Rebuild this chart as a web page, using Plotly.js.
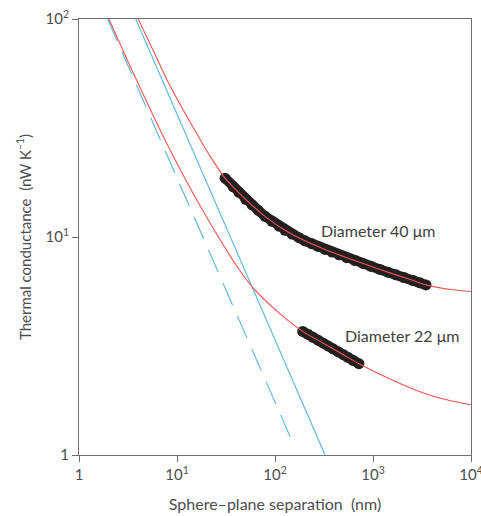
<!DOCTYPE html>
<html>
<head>
<meta charset="utf-8">
<script src="https://cdn.plot.ly/plotly-3.0.1.min.js"></script>
<style>html,body{margin:0;padding:0;background:#fff;}#chart{width:481px;height:516px;}</style>
</head>
<body>
<div id="chart"></div>
<script>
// Measured data, diameter 40 µm (separation nm, conductance nW/K)
const d40X = [30.9, 37.5, 42.9, 50.2, 58.3, 67.1, 79.1, 93.2, 109.8, 126.5, 149.1, 175.8, 202, 238.6, 274.7, 324, 381.6, 449.8, 539, 655, 791, 954, 1178, 1422, 1717, 2072, 2577, 3017, 3475];
const d40Y = [18.62, 16.98, 16.01, 14.88, 14.04, 13.28, 12.44, 11.81, 11.21, 10.73, 10.31, 9.93, 9.60, 9.30, 9.05, 8.77, 8.53, 8.29, 8.04, 7.80, 7.56, 7.34, 7.10, 6.90, 6.71, 6.52, 6.31, 6.16, 6.03];
// Measured data, diameter 22 µm
const d22X = [191.7, 217.1, 244.2, 274.7, 311, 347.4, 390.7, 439.5, 498, 555.9, 625.2, 719];
const d22Y = [3.69, 3.573, 3.467, 3.363, 3.257, 3.166, 3.071, 2.979, 2.884, 2.803, 2.720, 2.624];
// Fitted curves (red)
const fit40X = [4.02, 5.73, 8.28, 15.5, 22, 30.9, 50.2, 79.1, 126.5, 202, 324, 539, 1178, 2577, 3475, 4700, 6500, 10000];
const fit40Y = [100, 71.5, 50.5, 30.4, 23.3, 18.62, 14.88, 12.44, 10.73, 9.60, 8.77, 8.04, 7.10, 6.31, 6.03, 5.86, 5.73, 5.62];
const fit22X = [2.02, 3.58, 7.85, 17.2, 43.9, 60.1, 112, 191.7, 311, 498, 719, 1490, 3260, 5650, 10000];
const fit22Y = [100, 56.5, 26.9, 13.9, 7.0, 5.83, 4.45, 3.69, 3.257, 2.884, 2.624, 2.23, 1.924, 1.793, 1.70];
// Proximity approximation lines (blue)
const pfa40X = [3.79, 324];
const pfa40Y = [100, 1];
const pfa22X = [1.96, 153.8];
const pfa22Y = [100, 1.123];
// Tick labels
const xTickVals = [1, 10, 100, 1000, 10000];
const xTickText = ['1', '10<sup>1</sup>', '10<sup>2</sup>', '10<sup>3</sup>', '10<sup>4</sup>'];
const yTickVals = [1, 10, 100];
const yTickText = ['1', '10<sup>1</sup>', '10<sup>2</sup>'];

const FONT = 'Lato, "Open Sans", sans-serif';
const black = '#231f20';
const red = '#f0554f';
const blue = '#55b4e6';
const grey = '#4d4d4f';

const traces = [
  {x: d40X, y: d40Y, mode: 'lines+markers', line: {color: black, width: 10}, marker: {color: black, size: 11}, hoverinfo: 'skip'},
  {x: d22X, y: d22Y, mode: 'lines+markers', line: {color: black, width: 10}, marker: {color: black, size: 11}, hoverinfo: 'skip'},
  {x: pfa40X, y: pfa40Y, mode: 'lines', line: {color: blue, width: 1.1}},
  {x: pfa22X, y: pfa22Y, mode: 'lines', line: {color: blue, width: 1.1, dash: '24px,12px'}},
  {x: fit40X, y: fit40Y, mode: 'lines', line: {color: red, width: 1.1, shape: 'spline', smoothing: 0.8}},
  {x: fit22X, y: fit22Y, mode: 'lines', line: {color: red, width: 1.1, shape: 'spline', smoothing: 0.8}}
];

const axisCommon = {
  type: 'log', showgrid: false, zeroline: false,
  showline: true, mirror: true, linecolor: '#6d6e71', linewidth: 1,
  ticks: 'outside', ticklen: 6, tickcolor: '#6d6e71', tickwidth: 1,
  tickmode: 'array', tickfont: {family: FONT, size: 15, color: grey},
  ticklabeloverflow: 'allow',
  automargin: false
};

const layout = {
  width: 481, height: 516,
  margin: {l: 79, r: 10, t: 19, b: 61},
  paper_bgcolor: '#fff', plot_bgcolor: '#fff',
  showlegend: false,
  font: {family: FONT, color: grey},
  xaxis: Object.assign({}, axisCommon, {
    range: [0, 4], tickvals: xTickVals, ticktext: xTickText,
    title: {text: 'Sphere–plane separation\u00a0 (nm)', font: {family: FONT, size: 16, color: grey}, standoff: 16}
  }),
  yaxis: Object.assign({}, axisCommon, {
    range: [0, 2], tickvals: yTickVals, ticktext: yTickText,
    title: {text: 'Thermal conductance\u00a0 (nW K<sup>–1</sup>)', font: {family: FONT, size: 15, color: grey}, standoff: 10}
  }),
  annotations: [
    {x: Math.log10(283), y: Math.log10(10.67), xref: 'x', yref: 'y', text: 'Diameter 40 μm', showarrow: false, xanchor: 'left', yanchor: 'middle', font: {family: FONT, size: 16, color: '#3f3f41'}},
    {x: Math.log10(498), y: Math.log10(3.52), xref: 'x', yref: 'y', text: 'Diameter 22 μm', showarrow: false, xanchor: 'left', yanchor: 'middle', font: {family: FONT, size: 16, color: '#3f3f41'}}
  ]
};

Plotly.newPlot('chart', traces, layout, {staticPlot: true, displayModeBar: false});
</script>
</body>
</html>
